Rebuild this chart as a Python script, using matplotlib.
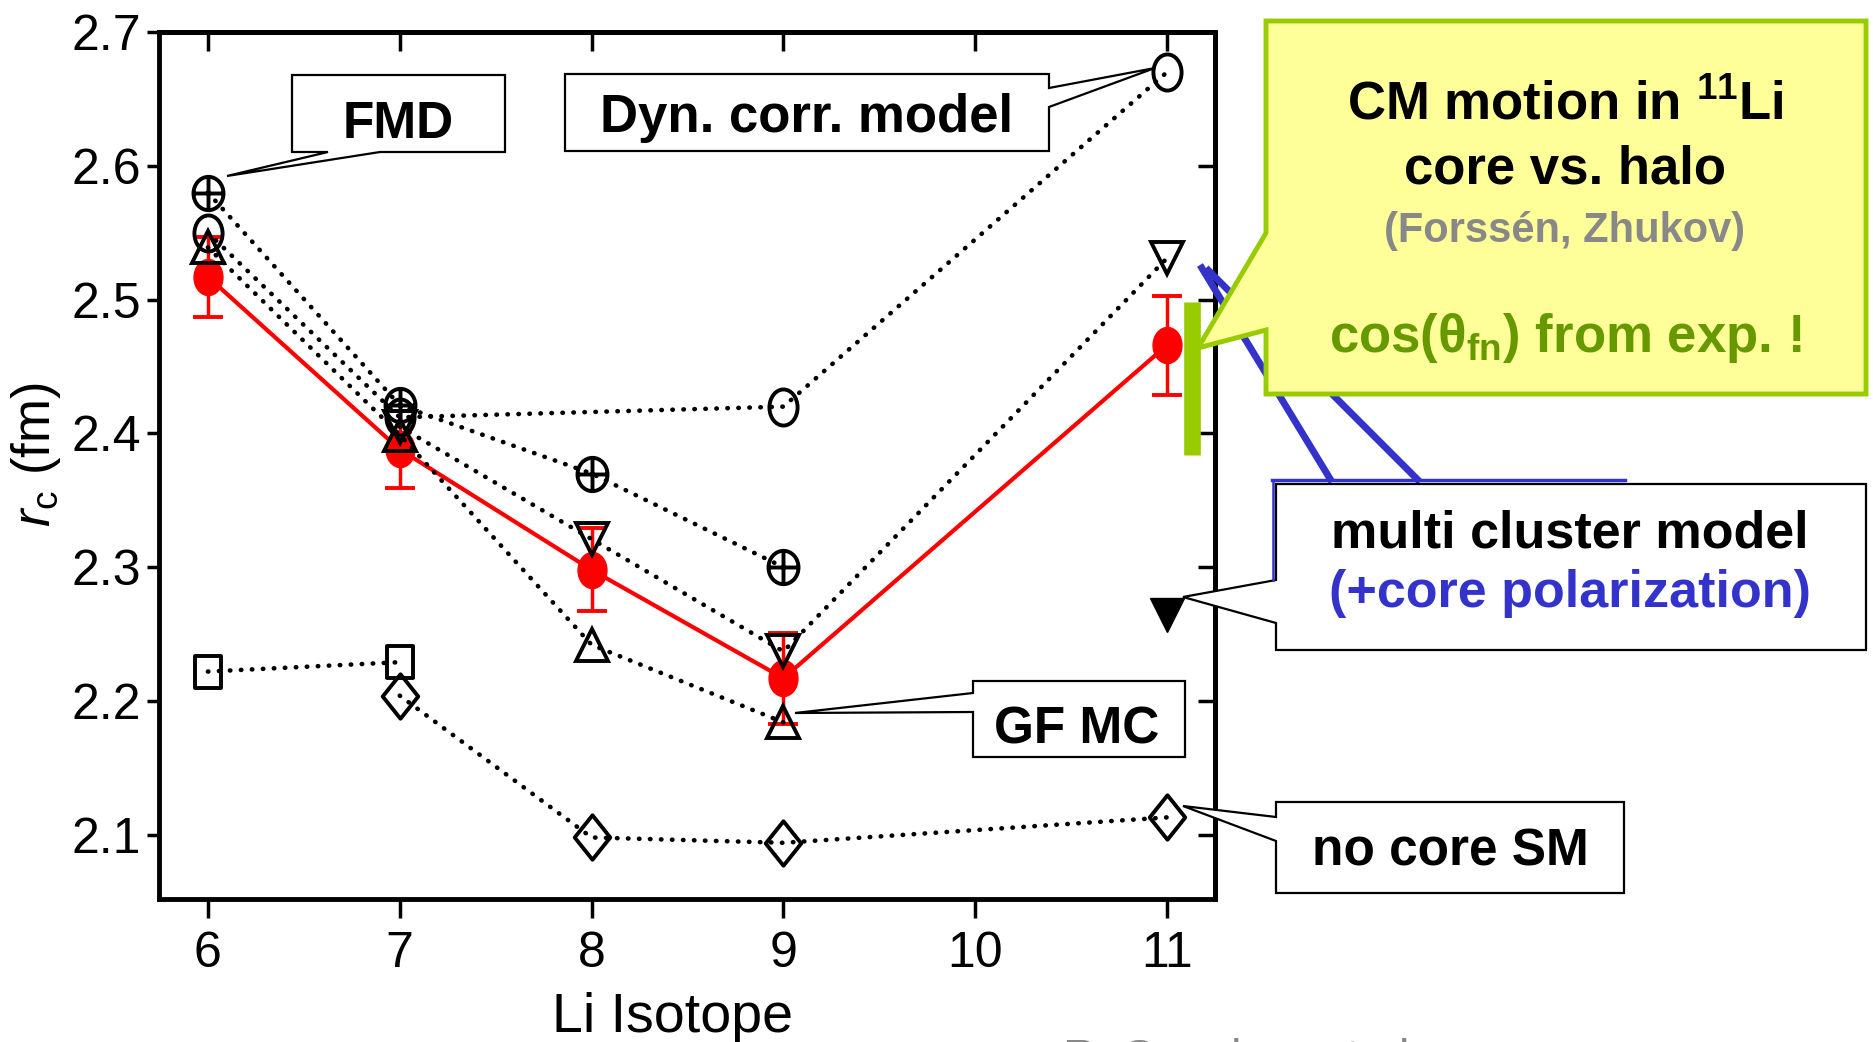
import numpy as np
import matplotlib
matplotlib.use("Agg")
import matplotlib.pyplot as plt
from matplotlib.path import Path
from matplotlib.patches import Polygon
from matplotlib.ticker import NullFormatter

# ---------------- data ----------------
iso_exp = [6, 7, 8, 9, 11]
rc_exp = [2.517, 2.388, 2.298, 2.217, 2.466]
rc_exp_err = [0.030, 0.029, 0.031, 0.034, 0.037]

fmd_x = [6, 7, 8, 9]
fmd_y = [2.580, 2.421, 2.370, 2.300]

dyn_x = [6, 7, 9, 11]
dyn_y = [2.550, 2.412, 2.420, 2.670]

gfmc_x = [6, 7, 8, 9]
gfmc_y = [2.539, 2.399, 2.242, 2.184]

mcm_x = [7, 8, 9, 11]
mcm_y = [2.405, 2.321, 2.237, 2.531]

sq_x = [6, 7]
sq_y = [2.222, 2.229]

ncsm_x = [7, 8, 9, 11]
ncsm_y = [2.204, 2.098, 2.094, 2.113]

mcmcp_x = [11]
mcmcp_y = [2.264]

cm_band_x = 11.13
cm_band = [2.384, 2.498]

xticks = [6, 7, 8, 9, 10, 11]
xtick_labels = ["6", "7", "8", "9", "10", "11"]
yticks = [2.1, 2.2, 2.3, 2.4, 2.5, 2.6, 2.7]
ytick_labels = ["2.1", "2.2", "2.3", "2.4", "2.5", "2.6", "2.7"]

# ---------------- style ----------------
NARROW = ["Liberation Sans Narrow", "Liberation Sans", "DejaVu Sans"]
BOLD = ["Liberation Sans", "DejaVu Sans"]
plt.rcParams["mathtext.fontset"] = "custom"
plt.rcParams["mathtext.rm"] = "Liberation Sans"
plt.rcParams["mathtext.it"] = "Liberation Sans:italic"
plt.rcParams["mathtext.bf"] = "Liberation Sans:bold"


def ellipse(w=0.8):
    c = Path.unit_circle()
    return Path(c.vertices * [w, 1.0], c.codes)


def crossed(w=0.9):
    c = Path.unit_circle()
    verts = list(c.vertices * [w, 1.0]) + [(0, -1), (0, 1), (-w, 0), (w, 0)]
    codes = list(c.codes) + [Path.MOVETO, Path.LINETO, Path.MOVETO, Path.LINETO]
    return Path(verts, codes)


def rect(w=0.82):
    return Path([(-w, -1), (w, -1), (w, 1), (-w, 1), (-w, -1)],
                [Path.MOVETO, Path.LINETO, Path.LINETO, Path.LINETO, Path.CLOSEPOLY])


def diamond(w=0.8):
    return Path([(0, -1), (w, 0), (0, 1), (-w, 0), (0, -1)],
                [Path.MOVETO, Path.LINETO, Path.LINETO, Path.LINETO, Path.CLOSEPOLY])


W, H = 1873, 1042
fig = plt.figure(figsize=(W / 100, H / 100), dpi=100)
fig.patch.set_facecolor("white")

L, R, T, B = 159, 1215, 32, 899
ax = fig.add_axes([L / W, 1 - B / H, (R - L) / W, (B - T) / H])
ax.set_xlim(5.745, 11.25)
ax.set_ylim(2.052, 2.7)

dot = dict(color="black", lw=3.3, ls=(0, (0.1, 2.3)), dash_capstyle="round",
           mfc="none", mec="black", mew=2.8, zorder=3)

ax.errorbar(iso_exp, rc_exp, yerr=rc_exp_err, color="#ff0000", lw=3, marker=ellipse(0.8),
            ms=26, mfc="#ff0000", mec="#ff0000", ecolor="#ff0000", elinewidth=2.5,
            capsize=11, capthick=2.8, zorder=2)

ax.plot(fmd_x, fmd_y, marker=crossed(), ms=24, **dot)
ax.plot(dyn_x, dyn_y, marker=ellipse(0.78), ms=26, **dot)
ax.plot(gfmc_x, gfmc_y, marker="^", ms=23, **dot)
ax.plot(mcm_x, mcm_y, marker="v", ms=23, **dot)
ax.plot(sq_x, sq_y, marker=rect(), ms=23, **dot)
ax.plot(ncsm_x, ncsm_y, marker=diamond(), ms=32, **dot)
ax.plot(mcmcp_x, mcmcp_y, ls="none", marker="v", ms=24, mfc="black", mec="black", zorder=3)

ax.vlines(cm_band_x, cm_band[0], cm_band[1], colors="#99cc00", lw=12, zorder=4, clip_on=False)

for s in ax.spines.values():
    s.set_linewidth(3.5)

ax.set_xticks(xticks, xtick_labels)
ax.set_yticks(yticks, ytick_labels)
ax.tick_params(axis="y", direction="out", length=9, width=2.5, pad=4, labelsize=36)
ax.tick_params(axis="x", direction="out", length=14, width=2.5, pad=9, labelsize=36)
for lab in ax.get_xticklabels() + ax.get_yticklabels():
    lab.set_family(NARROW)

sy = ax.secondary_yaxis("right")
sy.set_yticks(yticks)
sy.yaxis.set_major_formatter(NullFormatter())
sy.tick_params(direction="in", length=12, width=2.5)
sy.spines["right"].set_linewidth(3.5)
sx = ax.secondary_xaxis("top")
sx.set_xticks(xticks)
sx.xaxis.set_major_formatter(NullFormatter())
sx.tick_params(direction="in", length=14, width=2.5)
sx.spines["top"].set_linewidth(3.5)

ax.set_xlabel("Li Isotope", fontsize=40, family=NARROW)
ax.xaxis.set_label_coords((672 - L) / (R - L), (B - 1032) / (B - T))
ax.xaxis.label.set_va("baseline")
ax.set_ylabel(r"$r_{\mathrm{c}}$ (fm)", fontsize=38, family=NARROW)
ax.yaxis.set_label_coords((36 - L) / (R - L), (B - 455) / (B - T))
ax.yaxis.label.set_va("center")

# ---------------- overlay annotations (pixel coords) ----------------
ov = fig.add_axes([0, 0, 1, 1], zorder=10)
ov.set_xlim(0, W)
ov.set_ylim(H, 0)
ov.axis("off")


def callout(verts, fc="white", ec="black", lw=1.6, z=3):
    ov.add_patch(Polygon(verts, closed=True, fc=fc, ec=ec, lw=lw, zorder=z, joinstyle="miter"))


def label(x, y, s, size=37, color="black", z=5):
    ov.text(x, y, s, ha="center", va="baseline", fontsize=size, fontweight="bold",
            color=color, family=BOLD, zorder=z)


# blue pointer lines (under yellow callout)
ov.plot([1200, 1332], [265, 482], color="#3333cc", lw=5, solid_capstyle="butt", zorder=1)
ov.plot([1206, 1420], [268, 482], color="#3333cc", lw=5, solid_capstyle="butt", zorder=1)

# FMD
callout([(292, 75), (505, 75), (505, 152), (380, 152), (227, 176), (328, 152), (292, 152)])
label(398, 138, "FMD")

# Dyn. corr. model
callout([(565, 74), (1049, 74), (1049, 88), (1155, 68), (1049, 107), (1049, 151), (565, 151)])
label(807, 132, "Dyn. corr. model", size=38)

# GF MC
callout([(973, 681), (1185, 681), (1185, 757), (973, 757), (973, 712), (795, 713), (973, 693)])
label(1077, 743, "GF MC")

# no core SM
callout([(1276, 802), (1624, 802), (1624, 893), (1276, 893), (1276, 841), (1183, 806), (1276, 817)])
label(1450, 865, "no core SM")

# multi cluster model
callout([(1276, 484), (1866, 484), (1866, 650), (1276, 650), (1276, 623), (1183, 597), (1276, 580)])
ov.plot([1272, 1625], [480, 480], color="#3333cc", lw=2.5, zorder=4)
ov.plot([1273, 1273], [480, 580], color="#3333cc", lw=1.8, zorder=4)
label(1570, 547, "multi cluster model", size=37.5)
label(1570, 607, "(+core polarization)", size=37.5, color="#3333cc")

# yellow callout
callout([(1266, 21), (1866, 21), (1866, 394), (1266, 394), (1266, 330), (1198, 348), (1266, 233)],
        fc="#ffff99", ec="#99cc00", lw=3.5, z=2)
label(1565, 119, r"CM motion in $^{\mathbf{11}}$Li", size=38)
label(1565, 183, "core vs. halo", size=38)
label(1565, 242, "(Forssén, Zhukov)", size=30, color="#888888")
label(1565, 352, r"cos(θ$_{\mathbf{fn}}$) from exp. !", size=38, color="#669900")

# cut-off reference at bottom
fig.text(1063 / W, 1 - 1072 / H, "R. Sanchez et al.", fontsize=34, color="#888888",
         family=BOLD, ha="left", va="baseline")

fig.savefig("out.png", dpi=100, facecolor="white")
